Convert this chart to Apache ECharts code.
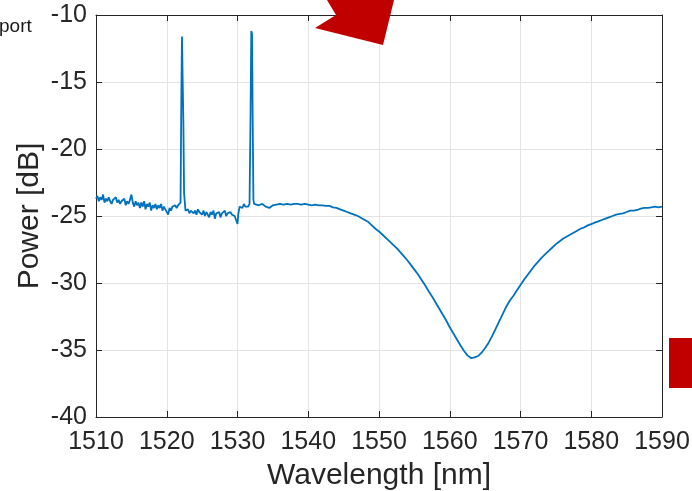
<!DOCTYPE html>
<html>
<head>
<meta charset="utf-8">
<script src="https://cdn.jsdelivr.net/npm/echarts@6/dist/echarts.min.js"></script>
<style>
  html, body { margin: 0; padding: 0; background: #fff; }
  #chart { width: 692px; height: 491px; }
</style>
</head>
<body>
<div id="chart"></div>
<script>
// Transmission spectrum: wavelength (nm) and measured power (dB)
const wavelength = [
  1510.0, 1510.2, 1510.4, 1510.6, 1510.8, 1511.0, 1511.2, 1511.4, 1511.6, 1511.8,
  1512.0, 1512.2, 1512.4, 1512.6, 1512.8, 1513.0, 1513.2, 1513.4, 1513.6, 1513.8,
  1514.0, 1514.2, 1514.4, 1514.6, 1514.8, 1515.0, 1515.2, 1515.4, 1515.6, 1515.8,
  1516.0, 1516.2, 1516.4, 1516.6, 1516.8, 1517.0, 1517.2, 1517.4, 1517.6, 1517.8,
  1518.0, 1518.2, 1518.4, 1518.6, 1518.8, 1519.0, 1519.2, 1519.4, 1519.6, 1519.8,
  1520.0, 1520.2, 1520.4, 1520.6, 1520.8, 1521.0, 1521.2, 1521.4, 1521.6, 1521.8,
  1521.95, 1522.05, 1522.15, 1522.25, 1522.35, 1522.45, 1522.55, 1522.65,
  1522.8, 1523.0, 1523.2, 1523.4, 1523.6, 1523.8, 1524.0, 1524.2, 1524.4, 1524.6,
  1524.8, 1525.0, 1525.2, 1525.4, 1525.6, 1525.8, 1526.0, 1526.2, 1526.4, 1526.6,
  1526.8, 1527.0, 1527.2, 1527.4, 1527.6, 1527.8, 1528.0, 1528.2, 1528.4, 1528.6,
  1528.8, 1529.0, 1529.2, 1529.4, 1529.6, 1529.8, 1530.0, 1530.1, 1530.3, 1530.5,
  1530.7, 1530.9, 1531.1, 1531.3, 1531.5, 1531.7,
  1531.8, 1531.85, 1531.95, 1532.05, 1532.15, 1532.25, 1532.35,
  1532.5, 1533.0, 1533.5, 1534.0, 1534.5, 1535.0, 1535.5, 1536.0, 1536.5, 1537.0,
  1537.5, 1538.0, 1538.5, 1539.0, 1539.5, 1540.0, 1540.5, 1541.0, 1541.5, 1542.0,
  1542.5, 1543.0, 1543.5, 1544.0, 1544.5, 1545.0, 1545.5, 1546.0, 1546.5, 1547.0,
  1547.5, 1548.0, 1548.5, 1549.0, 1549.5, 1550.0, 1550.5, 1551.0, 1551.5, 1552.0,
  1552.5, 1553.0, 1553.5, 1554.0, 1554.5, 1555.0, 1555.5, 1556.0, 1556.5, 1557.0,
  1557.5, 1558.0, 1558.5, 1559.0, 1559.5, 1560.0, 1560.5, 1561.0, 1561.5, 1562.0,
  1562.5, 1563.0, 1563.5, 1564.0, 1564.5, 1565.0, 1565.5, 1566.0, 1566.5, 1567.0,
  1567.5, 1568.0, 1568.5, 1569.0, 1569.5, 1570.0, 1570.5, 1571.0, 1571.5, 1572.0,
  1572.5, 1573.0, 1573.5, 1574.0, 1574.5, 1575.0, 1575.5, 1576.0, 1576.5, 1577.0,
  1577.5, 1578.0, 1578.5, 1579.0, 1579.5, 1580.0, 1580.5, 1581.0, 1581.5, 1582.0,
  1582.5, 1583.0, 1583.5, 1584.0, 1584.5, 1585.0, 1585.5, 1586.0, 1586.5, 1587.0,
  1587.5, 1588.0, 1588.5, 1589.0, 1589.5, 1590.0
];
const power = [
  -23.7, -23.5, -23.9, -23.6, -23.8, -23.4, -24.0, -23.7, -23.9, -23.6,
  -23.9, -24.1, -23.8, -23.9, -23.6, -24.0, -23.8, -24.1, -23.9, -24.0,
  -23.7, -24.2, -23.9, -24.1, -23.8, -23.4, -24.0, -24.3, -23.9, -24.2,
  -24.0, -24.4, -24.0, -24.3, -23.9, -24.5, -24.1, -24.3, -24.0, -24.6,
  -24.2, -24.4, -24.1, -24.5, -24.2, -24.4, -24.1, -24.6, -24.3, -24.5,
  -24.4, -24.9, -24.4, -24.6, -24.3, -24.4, -24.2, -24.4, -24.2, -24.3,
  -24.0, -17.0, -11.6, -11.5, -18.0, -23.3, -23.2, -24.6,
  -24.7, -24.5, -24.8, -24.6, -24.5, -24.8, -24.6, -24.9, -24.5, -24.7,
  -24.6, -24.9, -24.6, -25.0, -24.7, -24.8, -25.1, -24.7, -24.9, -24.6,
  -25.2, -24.8, -24.9, -24.7, -25.1, -24.8, -24.9, -24.6, -25.0, -24.8,
  -24.9, -24.7, -24.9, -24.8, -25.0, -24.9, -25.6, -24.9, -24.3, -24.2,
  -24.4, -24.1, -24.3, -24.2, -24.3, -24.1,
  -24.0, -17.0, -11.2, -11.4, -18.0, -23.8, -24.1,
  -24.1, -24.2, -24.1, -24.3, -24.4, -24.2, -24.15, -24.1, -24.15, -24.1,
  -24.15, -24.1, -24.1, -24.15, -24.1, -24.15, -24.2, -24.15, -24.2, -24.2,
  -24.25, -24.25, -24.35, -24.4, -24.5, -24.6, -24.7, -24.8, -24.9, -25.0,
  -25.15, -25.3, -25.45, -25.7, -25.95, -26.15, -26.4, -26.65, -26.9, -27.15,
  -27.4, -27.7, -28.0, -28.3, -28.65, -29.0, -29.35, -29.75, -30.15, -30.6,
  -31.0, -31.45, -31.9, -32.35, -32.8, -33.3, -33.75, -34.2, -34.65, -35.05,
  -35.4, -35.6, -35.55, -35.45, -35.2, -34.85, -34.45, -33.95, -33.4, -32.85,
  -32.3, -31.75, -31.3, -30.95, -30.55, -30.15, -29.75, -29.4, -29.05, -28.7,
  -28.4, -28.1, -27.85, -27.6, -27.35, -27.1, -26.9, -26.7, -26.55, -26.4,
  -26.25, -26.1, -25.95, -25.85, -25.7, -25.6, -25.5, -25.4, -25.3, -25.2,
  -25.1, -25.0, -24.9, -24.85, -24.8, -24.7, -24.6, -24.6, -24.55, -24.45,
  -24.4, -24.4, -24.35, -24.3, -24.35, -24.3
];

// Axis ranges and tick spacing
const xRange = [1510, 1590];
const xStep = 10;
const yRange = [-40, -10];
const yStep = 5;

const axisColor = '#262626';
const gridColor = '#e3e3e3';
const fontFamily = 'Arial, "Liberation Sans", Helvetica, sans-serif';

const chart = echarts.init(document.getElementById('chart'), null, { renderer: 'canvas' });

const points = wavelength.map((w, i) => [w, power[i]]);

// Box-style axes: labelled bottom/left, unlabelled mirrored top/right
function boxAxis(base, extra) {
  return Object.assign({
    type: 'value',
    axisLine: { show: true, onZero: false, lineStyle: { color: axisColor, width: 1 } },
    axisTick: { show: true, inside: true, length: 6, lineStyle: { color: axisColor } },
    splitLine: { show: false }
  }, base, extra);
}

chart.setOption({
  animation: false,
  backgroundColor: '#ffffff',
  grid: { left: 96, right: 30, top: 15, bottom: 74, containLabel: false, outerBoundsMode: 'none' },
  xAxis: [
    boxAxis({ min: xRange[0], max: xRange[1], interval: xStep, position: 'bottom' }, {
      name: 'Wavelength [nm]',
      nameLocation: 'middle',
      nameGap: 44,
      nameMoveOverlap: false,
      nameTextStyle: { color: axisColor, fontSize: 30, fontFamily: fontFamily },
      axisLabel: {
        color: axisColor, fontSize: 25, fontFamily: fontFamily, margin: 13,
        formatter: v => String(v)
      },
      splitLine: { show: true, lineStyle: { color: gridColor, width: 1 } }
    }),
    boxAxis({ min: xRange[0], max: xRange[1], interval: xStep, position: 'top' }, {
      axisLabel: { show: false }
    })
  ],
  yAxis: [
    boxAxis({ min: yRange[0], max: yRange[1], interval: yStep, position: 'left' }, {
      name: 'Power [dB]',
      nameLocation: 'middle',
      nameGap: 51,
      nameMoveOverlap: false,
      nameTextStyle: { color: axisColor, fontSize: 30, fontFamily: fontFamily },
      axisLabel: {
        color: axisColor, fontSize: 25, fontFamily: fontFamily, margin: 9,
        formatter: v => String(v)
      },
      splitLine: { show: true, lineStyle: { color: gridColor, width: 1 } }
    }),
    boxAxis({ min: yRange[0], max: yRange[1], interval: yStep, position: 'right' }, {
      axisLabel: { show: false }
    })
  ],
  series: [{
    type: 'line',
    data: points,
    xAxisIndex: 0,
    yAxisIndex: 0,
    showSymbol: false,
    symbol: 'none',
    lineStyle: { color: '#0072BD', width: 1.8 },
    silent: true
  }],
  graphic: [
    // Partial annotation text and red arrow shapes around the plot
    {
      type: 'text', x: -1, y: 27,
      style: { text: 'port', fontSize: 19, fontFamily: fontFamily, fill: '#1a1a1a', verticalAlign: 'middle' }
    },
    {
      type: 'polygon',
      shape: { points: [[327, 0], [336, 15], [315, 28], [383, 45], [394, 0]] },
      style: { fill: '#C00000' },
      z: 100
    },
    {
      type: 'rect',
      shape: { x: 669, y: 338, width: 30, height: 50 },
      style: { fill: '#C00000' },
      z: 100
    }
  ]
});
</script>
</body>
</html>
